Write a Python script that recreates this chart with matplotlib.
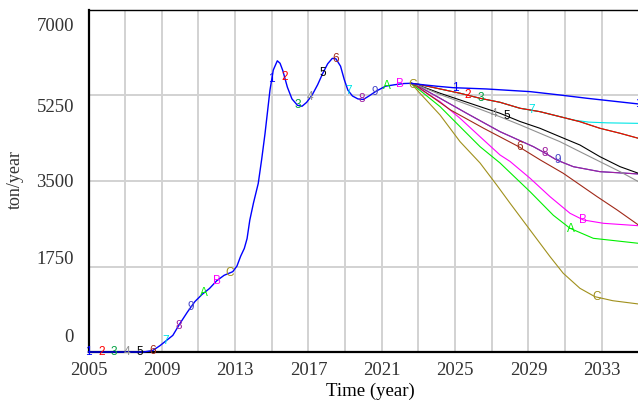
import numpy as np
import matplotlib
matplotlib.use("Agg")
import matplotlib.pyplot as plt
from matplotlib.transforms import ScaledTranslation

# Shared history (all scenarios follow the same path up to 2022.6)
hist_years = [2005.0, 2006.0, 2007.0, 2008.0, 2008.5, 2008.9, 2009.3, 2009.6, 2010.0,
              2010.4, 2010.8, 2011.2, 2011.6, 2012.0, 2012.4, 2012.87, 2013.1, 2013.3,
              2013.5, 2013.65, 2013.8, 2014.0, 2014.26, 2014.45, 2014.63, 2014.9, 2015.08,
              2015.3, 2015.45, 2015.6, 2015.85, 2016.1, 2016.4, 2016.65, 2016.9, 2017.2,
              2017.5, 2017.8, 2018.05, 2018.3, 2018.5, 2018.75, 2018.95, 2019.15, 2019.4,
              2019.7, 2020.0, 2020.3, 2020.7, 2021.2, 2021.7, 2022.2, 2022.6]
hist_values = [0, 0, 0, 0, 30, 130, 250, 340, 590,
               820, 1030, 1180, 1300, 1460, 1570, 1644, 1760, 1960,
               2120, 2320, 2700, 3050, 3450, 3950, 4470, 5360, 5770,
               5960, 5910, 5760, 5420, 5180, 5050, 5030, 5110, 5260,
               5470, 5720, 5900, 6010, 6000, 5850, 5580, 5360, 5240,
               5180, 5170, 5240, 5340, 5440, 5470, 5495, 5500]

# Scenario projections after 2022.6
s1_years = [2023.0, 2024.0, 2024.9, 2026.7, 2029.1, 2030.7, 2032.2, 2035.0]
s1_values = [5480, 5440, 5410, 5384, 5329, 5261, 5193, 5077]

s2_years = [2023.0, 2024.18, 2025.27, 2026.36, 2027.45, 2028.54, 2029.63, 2030.72,
            2031.81, 2032.9, 2034.0, 2035.0]
s2_values = [5480, 5384, 5296, 5193, 5111, 4989, 4919, 4817, 4714, 4579, 4477, 4374]

s3_years = s2_years
s3_values = s2_values

s4_years = [2023.0, 2024.18, 2025.27, 2026.36, 2027.45, 2028.54, 2029.63, 2030.72,
            2031.81, 2032.9, 2034.0, 2035.0]
s4_values = [5455, 5270, 5120, 4970, 4815, 4650, 4477, 4305, 4100, 3896, 3691, 3487]

s5_years = [2023.0, 2024.18, 2025.27, 2026.36, 2027.45, 2028.54, 2029.63, 2030.72,
            2031.81, 2032.9, 2034.0, 2035.0]
s5_values = [5460, 5296, 5159, 5022, 4886, 4718, 4579, 4407, 4237, 3998, 3793, 3658]

s6_years = [2023.0, 2024.75, 2026.56, 2028.47, 2029.65, 2030.9, 2032.75, 2033.84, 2035.0]
s6_values = [5420, 4954, 4579, 4203, 3930, 3658, 3179, 2907, 2600]

s7_years = [2023.0, 2024.18, 2025.27, 2026.36, 2027.45, 2028.54, 2029.63, 2030.72,
            2031.5, 2032.3, 2033.3, 2035.0]
s7_values = [5480, 5384, 5296, 5193, 5111, 4989, 4919, 4817, 4745, 4705, 4690, 4680]

s8_years = [2023.0, 2024.18, 2025.63, 2027.45, 2029.27, 2029.9, 2030.54, 2031.45,
            2032.9, 2035.0]
s8_values = [5440, 5193, 4886, 4510, 4203, 4073, 3930, 3793, 3691, 3644]

s9_years = s8_years
s9_values = s8_values

sA_years = [2023.0, 2024.18, 2025.27, 2026.36, 2027.45, 2029.09, 2030.36, 2031.27,
            2032.54, 2035.0]
sA_values = [5380, 5022, 4612, 4203, 3869, 3281, 2798, 2532, 2327, 2225]

sB_years = [2023.0, 2024.18, 2025.27, 2026.36, 2027.45, 2028.0, 2029.09, 2030.18,
            2031.27, 2032.0, 2033.1, 2035.0]
sB_values = [5400, 5124, 4784, 4407, 4033, 3900, 3556, 3179, 2839, 2702, 2634, 2585]

sC_years = [2023.0, 2024.18, 2025.27, 2026.36, 2027.27, 2028.0, 2029.09, 2030.18,
            2030.9, 2031.81, 2032.63, 2033.6, 2035.0]
sC_values = [5330, 4851, 4305, 3869, 3418, 3044, 2497, 1951, 1611, 1304, 1132, 1050, 983]

labels = ["1", "2", "3", "4", "5", "6", "7", "8", "9", "A", "B", "C"]
colors = ["#0000ff", "#ff0000", "#00a040", "#909090", "#000000", "#a02818",
          "#00e6e6", "#a020a0", "#4848c8", "#00f000", "#ff00ff", "#a0901c"]
futures = [(s1_years, s1_values), (s2_years, s2_values), (s3_years, s3_values),
           (s4_years, s4_values), (s5_years, s5_values), (s6_years, s6_values),
           (s7_years, s7_values), (s8_years, s8_values), (s9_years, s9_values),
           (sA_years, sA_values), (sB_years, sB_values), (sC_years, sC_values)]

x_min, x_max = 2005, 2035
y_min, y_max = 0, 7000

fig = plt.figure(figsize=(6.38, 4.0), dpi=100)
ax = fig.add_axes([88.5 / 638, 48 / 400, 549.9 / 638, 342 / 400])
ax.set_xlim(x_min, x_max)
ax.set_ylim(y_min, y_max)

serif = "Liberation Serif"

# Grid: every 2 years, labels every 4 years
xt = list(range(2005, 2035, 2))
ax.set_xticks(xt)
ax.set_xticklabels([str(v) if (v - 2005) % 4 == 0 else "" for v in xt],
                   fontfamily=serif, fontsize=13.5, color="#333333")
yt = [0, 1750, 3500, 5250, 7000]
ax.set_yticks(yt)
ax.set_yticklabels([str(v) for v in yt], fontfamily=serif, fontsize=13.5, color="#333333")
ax.tick_params(axis="both", length=0)
ax.tick_params(axis="x", pad=7.5)
ax.tick_params(axis="y", pad=10.5)
ax.grid(True, color="#d2d2d2", linewidth=1.4, zorder=0)
ax.set_axisbelow(True)

# y labels are spread evenly between the top and bottom of the axis
shifts = [12, 6.5, 0, -7, -10.5]
for lab, s in zip(ax.get_yticklabels(), shifts):
    lab.set_transform(lab.get_transform() + ScaledTranslation(0, s / 72, fig.dpi_scale_trans))

for side in ("left", "bottom"):
    ax.spines[side].set_color("black")
    ax.spines[side].set_linewidth(1.6)
ax.spines["top"].set_color("black")
ax.spines["top"].set_linewidth(1.0)
ax.spines["right"].set_visible(False)

ax.set_xlabel("Time (year)", fontfamily=serif, fontsize=13.5)
ax.xaxis.set_label_coords(0.512, -0.09)
ax.set_ylabel("ton/year", fontfamily=serif, fontsize=13, color="#333333")
ax.yaxis.set_label_coords(-0.118, 0.505)

# Full series per scenario (shared history + projection)
series = []
for k in range(len(labels)):
    yrs = hist_years + list(futures[k][0])
    vals = hist_values + list(futures[k][1])
    series.append((np.array(yrs), np.array(vals, dtype=float)))

# Projections: scenario C drawn first so that scenario 1 ends up on top
n_hist = len(hist_years)
for k in reversed(range(len(labels))):
    yrs, vals = series[k]
    start = 0 if k == 0 else n_hist - 1
    ax.plot(yrs[start:], vals[start:], color=colors[k], linewidth=1.0 if k == 0 else 0.8,
            zorder=3 + (len(labels) - k) * 0.01, clip_on=False)

# Identifier characters placed along each line
for k in range(len(labels)):
    yrs, vals = series[k]
    for n in range(4):
        t = 2005 + 0.7 * k + 10 * n
        if t > x_max + 0.01:
            continue
        v = np.interp(t, yrs, vals)
        ax.text(t, v, labels[k], color=colors[k], fontsize=8.5, fontfamily="Liberation Sans",
                ha="center", va="center", zorder=10, clip_on=False)

fig.savefig("out.png", dpi=100)
